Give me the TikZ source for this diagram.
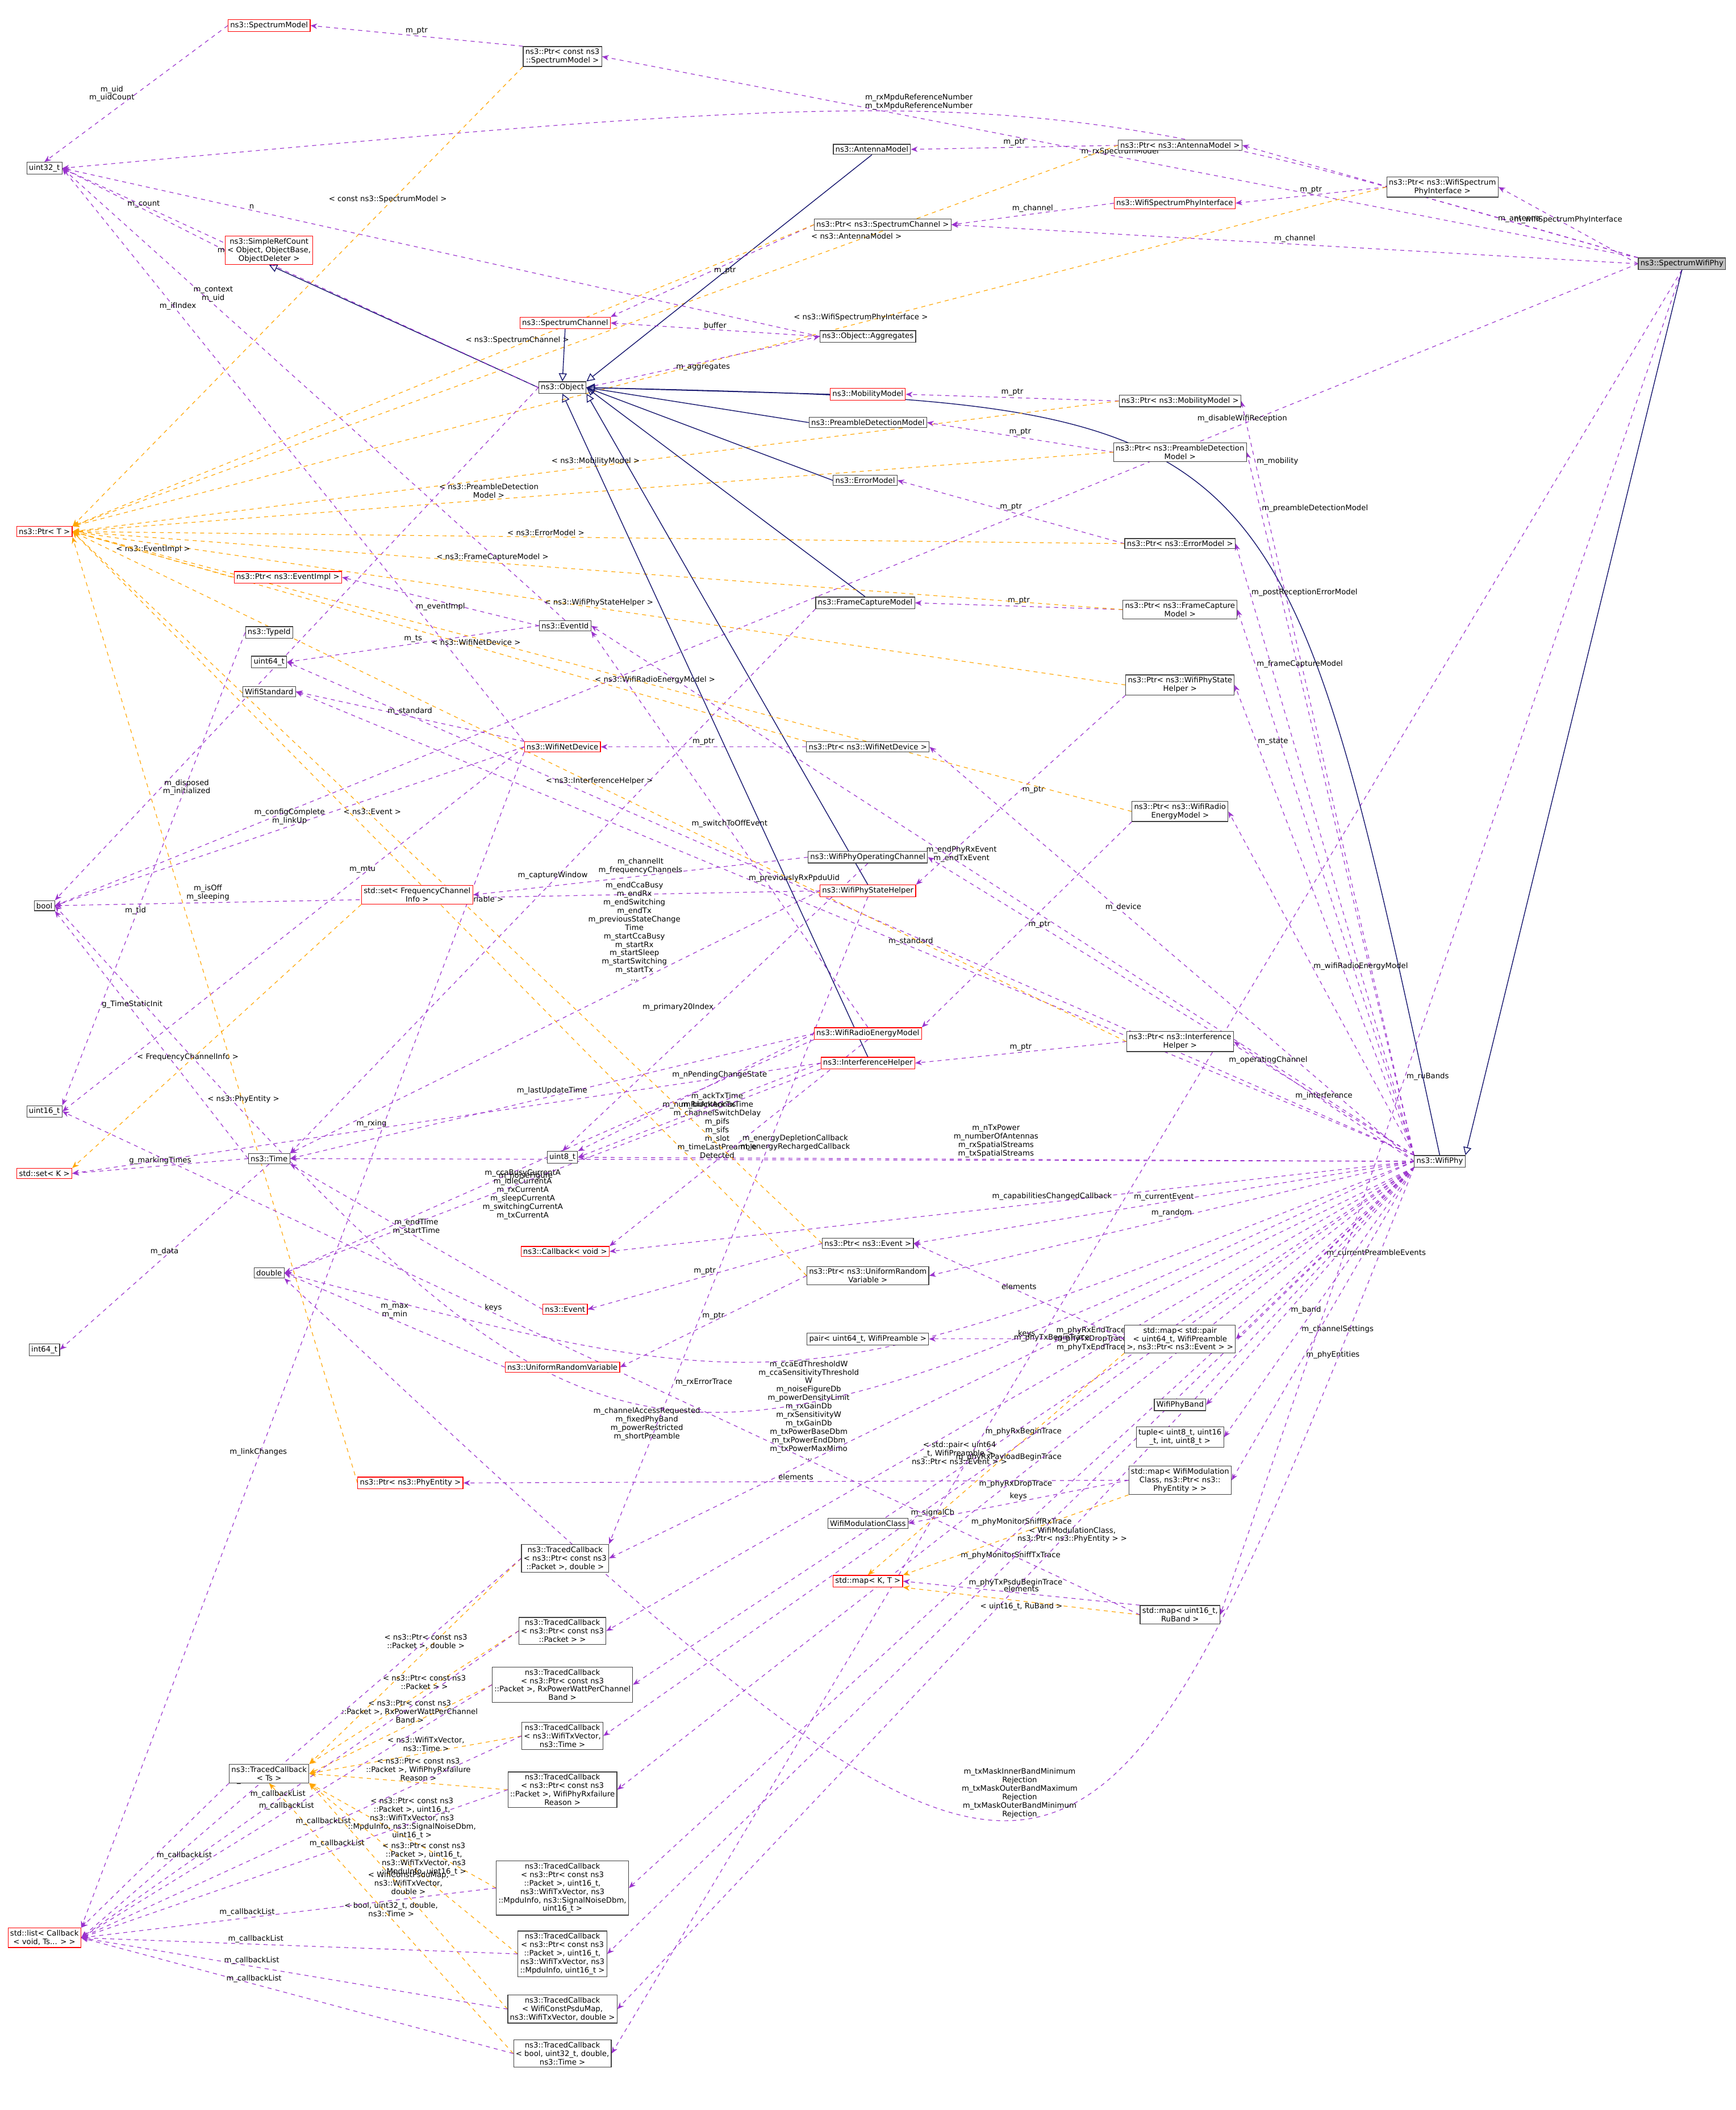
\documentclass[tikz,border=0pt]{standalone}
\usepackage{fontspec}
\setmainfont{DejaVu Sans}
\usetikzlibrary{arrows.meta}
\pgfdeclarelayer{bg}
\pgfsetlayers{bg,main}
\definecolor{pur}{HTML}{9A32CD}
\definecolor{org}{HTML}{FFA500}
\definecolor{nav}{HTML}{191970}
\tikzset{
 bx/.style={draw=black!75,fill=white,inner sep=1.6pt,align=center,font=\fontsize{5.6}{6.3}\selectfont,line width=0.5pt},
 rbx/.style={bx,draw=red},
 gbx/.style={bx,fill=black!25},
 use/.style={draw=pur,dashed,line width=0.5pt,-{Stealth[length=5pt,width=4pt]}},
 tpl/.style={draw=org,dashed,line width=0.5pt,-{Stealth[length=5pt,width=4pt]}},
 inh/.style={draw=nav,line width=0.6pt,-{Triangle[open,length=6pt,width=6pt]}},
 lb/.style={font=\fontsize{5.6}{6.3}\selectfont,align=center,inner sep=1pt,text=black}
}
\begin{document}
\begin{tikzpicture}[x=1pt,y=-1pt]
\useasboundingbox (0,0) rectangle (1290,1568);
% nodes
\node[gbx] (SWP) at (1250,196) {ns3::SpectrumWifiPhy};
\node[bx] (WP) at (1070,863) {ns3::WifiPhy};
\node[rbx] (SM) at (200,19) {ns3::SpectrumModel};
\node[bx] (PCSM) at (418,42) {ns3::Ptr< const ns3\\::SpectrumModel >};
\node[bx] (U32) at (33,125) {uint32\_t};
\node[bx] (AM) at (648,111) {ns3::AntennaModel};
\node[bx] (PAM) at (877,108) {ns3::Ptr< ns3::AntennaModel >};
\node[bx] (PWSPI) at (1072,139) {ns3::Ptr< ns3::WifiSpectrum\\PhyInterface >};
\node[rbx] (WSPI) at (873,151) {ns3::WifiSpectrumPhyInterface};
\node[bx] (PSC) at (656,167) {ns3::Ptr< ns3::SpectrumChannel >};
\node[rbx] (SRC) at (200,186) {ns3::SimpleRefCount\\< Object, ObjectBase,\\ObjectDeleter >};
\node[rbx] (SC) at (420,240) {ns3::SpectrumChannel};
\node[bx] (AGG) at (645,250) {ns3::Object::Aggregates};
\node[bx] (OBJ) at (418,288) {ns3::Object};
\node[rbx] (MM) at (645,293) {ns3::MobilityModel};
\node[bx] (PMM) at (877,298) {ns3::Ptr< ns3::MobilityModel >};
\node[bx] (PDM) at (645,314) {ns3::PreambleDetectionModel};
\node[bx] (PPDM) at (877,336) {ns3::Ptr< ns3::PreambleDetection\\Model >};
\node[bx] (EM) at (643,357) {ns3::ErrorModel};
\node[rbx] (PT) at (33,395) {ns3::Ptr< T >};
\node[bx] (PEM) at (877,404) {ns3::Ptr< ns3::ErrorModel >};
\node[rbx] (PEI) at (214,429) {ns3::Ptr< ns3::EventImpl >};
\node[bx] (EID) at (420,465) {ns3::EventId};
\node[bx] (FCM) at (643,448) {ns3::FrameCaptureModel};
\node[bx] (PFCM) at (877,453) {ns3::Ptr< ns3::FrameCapture\\Model >};
\node[bx] (TID) at (200,470) {ns3::TypeId};
\node[bx] (U64) at (200,492) {uint64\_t};
\node[bx] (WS) at (200,514) {WifiStandard};
\node[bx] (PWPSH) at (877,509) {ns3::Ptr< ns3::WifiPhyState\\Helper >};
\node[rbx] (WND) at (418,555) {ns3::WifiNetDevice};
\node[bx] (PWND) at (645,555) {ns3::Ptr< ns3::WifiNetDevice >};
\node[bx] (PWREM) at (877,603) {ns3::Ptr< ns3::WifiRadio\\EnergyModel >};
\node[bx] (WPOC) at (645,637) {ns3::WifiPhyOperatingChannel};
\node[bx] (BOOL) at (33,673) {bool};
\node[rbx] (SFCI) at (310,665) {std::set< FrequencyChannel\\Info >};
\node[rbx] (WPSH) at (645,662) {ns3::WifiPhyStateHelper};
\node[rbx] (WREM) at (645,768) {ns3::WifiRadioEnergyModel};
\node[rbx] (IH) at (645,790) {ns3::InterferenceHelper};
\node[bx] (PIH) at (877,774) {ns3::Ptr< ns3::Interference\\Helper >};
\node[bx] (U16) at (33,826) {uint16\_t};
\node[bx] (TIME) at (200,861) {ns3::Time};
\node[bx] (U8) at (418,860) {uint8\_t};
\node[rbx] (SK) at (33,872) {std::set< K >};
\node[rbx] (CBV) at (420,930) {ns3::Callback< void >};
\node[bx] (PEV) at (645,924) {ns3::Ptr< ns3::Event >};
\node[bx] (PURV) at (645,948) {ns3::Ptr< ns3::UniformRandom\\Variable >};
\node[bx] (DBL) at (200,946) {double};
\node[rbx] (EV) at (420,973) {ns3::Event};
\node[bx] (I64) at (33,1003) {int64\_t};
\node[bx] (PAIR) at (645,995) {pair< uint64\_t, WifiPreamble >};
\node[bx] (MPE) at (877,995) {std::map< std::pair\\< uint64\_t, WifiPreamble\\>, ns3::Ptr< ns3::Event > >};
\node[rbx] (URV) at (418,1016) {ns3::UniformRandomVariable};
\node[bx] (WPB) at (877,1044) {WifiPhyBand};
\node[bx] (TUP) at (877,1068) {tuple< uint8\_t, uint16\\\_t, int, uint8\_t >};
\node[rbx] (PPE) at (305,1102) {ns3::Ptr< ns3::PhyEntity >};
\node[bx] (MWMC) at (877,1100) {std::map< WifiModulation\\Class, ns3::Ptr< ns3::\\PhyEntity > >};
\node[bx] (WMC) at (645,1132) {WifiModulationClass};
\node[bx] (TC1) at (420,1158) {ns3::TracedCallback\\< ns3::Ptr< const ns3\\::Packet >, double >};
\node[rbx] (MKT) at (645,1175) {std::map< K, T >};
\node[bx] (MRU) at (877,1200) {std::map< uint16\_t,\\RuBand >};
\node[bx] (TC2) at (418,1212) {ns3::TracedCallback\\< ns3::Ptr< const ns3\\::Packet > >};
\node[bx] (TC3) at (418,1252) {ns3::TracedCallback\\< ns3::Ptr< const ns3\\::Packet >, RxPowerWattPerChannel\\Band >};
\node[bx] (TC4) at (418,1290) {ns3::TracedCallback\\< ns3::WifiTxVector,\\ns3::Time >};
\node[bx] (TCT) at (200,1318) {ns3::TracedCallback\\< Ts >};
\node[bx] (TC5) at (418,1330) {ns3::TracedCallback\\< ns3::Ptr< const ns3\\::Packet >, WifiPhyRxfailure\\Reason >};
\node[bx] (TC6) at (418,1403) {ns3::TracedCallback\\< ns3::Ptr< const ns3\\::Packet >, uint16\_t,\\ns3::WifiTxVector, ns3\\::MpduInfo, ns3::SignalNoiseDbm,\\uint16\_t >};
\node[rbx] (LST) at (33,1440) {std::list< Callback\\< void, Ts... > >};
\node[bx] (TC7) at (418,1452) {ns3::TracedCallback\\< ns3::Ptr< const ns3\\::Packet >, uint16\_t,\\ns3::WifiTxVector, ns3\\::MpduInfo, uint16\_t >};
\node[bx] (TC8) at (418,1493) {ns3::TracedCallback\\< WifiConstPsduMap,\\ns3::WifiTxVector, double >};
\node[bx] (TC9) at (418,1526) {ns3::TracedCallback\\< bool, uint32\_t, double,\\ns3::Time >};
\coordinate (cA) at (591,1045);
\coordinate (cB) at (800,1500);
\coordinate (cC) at (760,60);
\coordinate (cD) at (950,300);
\coordinate (cE) at (459,1137);

\begin{pgfonlayer}{bg}
\fill[white] (0,0) rectangle (1290,1568);
% SpectrumWifiPhy
\draw[use] (SWP.north west) -- node[lb,pos=0.5,above]{m\_rxSpectrumModel} (PCSM.east);
\draw[use] (SWP.north west) .. controls (cC) .. node[lb,pos=0.55,above]{m\_rxMpduReferenceNumber\\m\_txMpduReferenceNumber} (U32.east);
\draw[use] (SWP.north west) -- node[lb,pos=0.3,above]{m\_antenna} (PAM.east);
\draw[use] (SWP.west) -- node[lb,pos=0.5,above]{m\_wifiSpectrumPhyInterface} (PWSPI.east);
\draw[use] (SWP.west) -- node[lb,pos=0.5,above]{m\_channel} (PSC.east);
\draw[use] (SWP.west) -- node[lb,pos=0.25,above]{m\_disableWifiReception} (BOOL.east);
\draw[use] (SWP.south) -- node[lb,pos=0.6,right]{m\_ruBands} (MRU.east);
\draw[use] (SWP.south) -- node[lb,pos=0.7,above]{m\_signalCb} (TC9.east);
\draw[inh] (SWP.south) -- (WP.north east);
% WifiPhy
\draw[inh] (WP.north) .. controls (cD) .. (OBJ.east);
\draw[use] (WP.north west) -- node[lb,pos=0.92,right]{m\_mobility} (PMM.east);
\draw[use] (WP.north west) -- node[lb,pos=0.92,right]{m\_preambleDetectionModel} (PPDM.east);
\draw[use] (WP.north west) -- node[lb,pos=0.92,right]{m\_postReceptionErrorModel} (PEM.east);
\draw[use] (WP.north west) -- node[lb,pos=0.9,right]{m\_frameCaptureModel} (PFCM.east);
\draw[use] (WP.north west) -- node[lb,pos=0.88,right]{m\_state} (PWPSH.east);
\draw[use] (WP.west) -- node[lb,pos=0.6,above]{m\_device} (PWND.east);
\draw[use] (WP.north west) -- node[lb,pos=0.55,right]{m\_wifiRadioEnergyModel} (PWREM.east);
\draw[use] (WP.west) -- node[lb,pos=0.5,above]{m\_interference} (PIH.east);
\draw[use] (WP.west) -- node[lb,pos=0.5,above]{m\_currentEvent} (PEV.east);
\draw[use] (WP.west) -- node[lb,pos=0.5,above]{m\_random} (PURV.east);
\draw[use] (WP.south west) -- node[lb,pos=0.5,right]{m\_currentPreambleEvents} (MPE.east);
\draw[use] (WP.south west) -- node[lb,pos=0.6,right]{m\_band} (WPB.east);
\draw[use] (WP.south west) -- node[lb,pos=0.6,right]{m\_channelSettings} (TUP.east);
\draw[use] (WP.south west) -- node[lb,pos=0.6,right]{m\_phyEntities} (MWMC.east);
\draw[use] (WP.north west) -- node[lb,pos=0.55,above]{m\_endPhyRxEvent\\m\_endTxEvent} (EID.east);
\draw[use] (WP.north west) -- node[lb,pos=0.45,above]{m\_standard} (WS.east);
\draw[use] (WP.north west) -- node[lb,pos=0.55,above]{m\_previouslyRxPpduUid} (U64.east);
\draw[use] (WP.north west) -- node[lb,pos=0.3,above]{m\_operatingChannel} (WPOC.east);
\draw[use] (WP.west) -- node[lb,pos=0.5,above]{m\_nTxPower\\m\_numberOfAntennas\\m\_rxSpatialStreams\\m\_txSpatialStreams} (U8.east);
\draw[use] (WP.west) -- node[lb,pos=0.45,above]{m\_capabilitiesChangedCallback} (CBV.east);
\draw[use] (WP.west) -- node[lb,pos=0.62,above]{m\_ackTxTime\\m\_blockAckTxTime\\m\_channelSwitchDelay\\m\_pifs\\m\_sifs\\m\_slot\\m\_timeLastPreamble\\Detected} (TIME.east);
\draw[use] (WP.west) .. controls (cA) .. node[lb,pos=0.5,below]{m\_ccaEdThresholdW\\m\_ccaSensitivityThreshold\\W\\m\_noiseFigureDb\\m\_powerDensityLimit\\m\_rxGainDb\\m\_rxSensitivityW\\m\_txGainDb\\m\_txPowerBaseDbm\\m\_txPowerEndDbm\\m\_txPowerMaxMimo\\...} (DBL.east);
\draw[use] (WP.west) .. controls (cE) .. node[lb,pos=0.5,below]{m\_channelAccessRequested\\m\_fixedPhyBand\\m\_powerRestricted\\m\_shortPreamble} (BOOL.east);
\draw[use] (WP.south west) -- node[lb,pos=0.45,above]{m\_phyTxBeginTrace} (TC1.east);
\draw[use] (WP.south west) -- node[lb,pos=0.4,above]{m\_phyRxEndTrace\\m\_phyTxDropTrace\\m\_phyTxEndTrace} (TC2.east);
\draw[use] (WP.south west) .. controls (cB) .. node[lb,pos=0.5,above]{m\_txMaskInnerBandMinimum\\Rejection\\m\_txMaskOuterBandMaximum\\Rejection\\m\_txMaskOuterBandMinimum\\Rejection} (DBL.south east);
\draw[use] (WP.south west) -- node[lb,pos=0.5,below]{m\_phyRxBeginTrace} (TC3.east);
\draw[use] (WP.south west) -- node[lb,pos=0.5,below]{m\_phyRxPayloadBeginTrace} (TC4.east);
\draw[use] (WP.south west) -- node[lb,pos=0.5,below]{m\_phyRxDropTrace} (TC5.east);
\draw[use] (WP.south west) -- node[lb,pos=0.5,above]{m\_phyMonitorSniffRxTrace} (TC6.east);
\draw[use] (WP.south west) -- node[lb,pos=0.5,above]{m\_phyMonitorSniffTxTrace} (TC7.east);
\draw[use] (WP.south west) -- node[lb,pos=0.5,above]{m\_phyTxPsduBeginTrace} (TC8.east);
% Ptr instances
\draw[use] (PCSM.north west) -- node[lb,above]{m\_ptr} (SM.east);
\draw[tpl] (PCSM.south west) -- node[lb,pos=0.3,above]{< const ns3::SpectrumModel >} (PT.north east);
\draw[use] (SM.west) -- node[lb,pos=0.5,left]{m\_uid\\m\_uidCount} (U32.north);
\draw[use] (PAM.west) -- node[lb,above]{m\_ptr} (AM.east);
\draw[tpl] (PAM.west) -- node[lb,pos=0.25,above]{< ns3::AntennaModel >} (PT.north east);
\draw[inh] (AM.south) -- (OBJ.north east);
\draw[use] (PWSPI.west) -- node[lb,above]{m\_ptr} (WSPI.east);
\draw[tpl] (PWSPI.west) -- node[lb,pos=0.4,above]{< ns3::WifiSpectrumPhyInterface >} (PT.north east);
\draw[use] (WSPI.west) -- node[lb,above]{m\_channel} (PSC.east);
\draw[use] (PSC.west) -- node[lb,right]{m\_ptr} (SC.north east);
\draw[tpl] (PSC.west) -- node[lb,pos=0.4,above]{< ns3::SpectrumChannel >} (PT.north east);
\draw[use] (SRC.west) -- node[lb,above]{m\_count} (U32.east);
\draw[inh] (OBJ.west) -- (SRC.south);
\draw[inh] (SC.south) -- (OBJ.north);
\draw[use] (OBJ.east) -- node[lb,below]{m\_aggregates} (AGG.west);
\draw[use] (AGG.west) -- node[lb,above]{buffer} (SC.east);
\draw[use] (AGG.west) -- node[lb,pos=0.75,above]{n} (U32.east);
\draw[use] (OBJ.west) -- node[lb,pos=0.6,above]{m\_getObjectCount} (U32.east);
\draw[use] (OBJ.west) -- node[lb,pos=0.78,right]{m\_disposed\\m\_initialized} (BOOL.north east);
\draw[inh] (MM.west) -- (OBJ.east);
\draw[use] (PMM.west) -- node[lb,above]{m\_ptr} (MM.east);
\draw[tpl] (PMM.west) -- node[lb,pos=0.5,above]{< ns3::MobilityModel >} (PT.east);
\draw[inh] (PDM.west) -- (OBJ.east);
\draw[use] (PPDM.west) -- node[lb,above]{m\_ptr} (PDM.east);
\draw[tpl] (PPDM.west) -- node[lb,pos=0.6,above]{< ns3::PreambleDetection\\Model >} (PT.east);
\draw[inh] (EM.west) -- (OBJ.east);
\draw[use] (PEM.west) -- node[lb,above]{m\_ptr} (EM.east);
\draw[tpl] (PEM.west) -- node[lb,pos=0.55,above]{< ns3::ErrorModel >} (PT.east);
\draw[inh] (FCM.north) -- (OBJ.east);
\draw[use] (PFCM.west) -- node[lb,above]{m\_ptr} (FCM.east);
\draw[tpl] (PFCM.west) -- node[lb,pos=0.6,above]{< ns3::FrameCaptureModel >} (PT.east);
\draw[use] (FCM.south west) -- node[lb,pos=0.5,above]{m\_captureWindow} (TIME.north east);
\draw[use] (PWPSH.south west) -- node[lb,pos=0.5,right]{m\_ptr} (WPSH.north east);
\draw[tpl] (PWPSH.west) -- node[lb,pos=0.5,above]{< ns3::WifiPhyStateHelper >} (PT.east);
\draw[inh] (WPSH.north) -- (OBJ.south east);
\draw[tpl] (PEI.west) -- node[lb,above]{< ns3::EventImpl >} (PT.east);
\draw[use] (EID.west) -- node[lb,below]{m\_eventImpl} (PEI.east);
\draw[use] (EID.west) -- node[lb,above]{m\_ts} (U64.east);
\draw[use] (EID.north) -- node[lb,pos=0.7,above]{m\_context\\m\_uid} (U32.east);
\draw[use] (TID.west) -- node[lb,pos=0.6,above]{m\_tid} (U16.north east);
\draw[use] (TIME.south) -- node[lb,pos=0.5,above]{m\_data} (I64.east);
\draw[use] (TIME.west) -- node[lb,pos=0.6,above]{g\_TimeStaticInit} (BOOL.south east);
\draw[use] (TIME.west) -- node[lb,above]{g\_markingTimes} (SK.east);
\draw[tpl] (SFCI.south west) -- node[lb,pos=0.6,above]{< FrequencyChannelInfo >} (SK.north east);
\draw[use] (WND.west) -- node[lb,pos=0.5,above]{m\_configComplete\\m\_linkUp} (BOOL.east);
\draw[use] (WND.north west) -- node[lb,pos=0.75,above]{m\_ifIndex} (U32.east);
\draw[use] (WND.west) -- node[lb,pos=0.35,above]{m\_mtu} (U16.east);
\draw[use] (WND.north west) -- node[lb,pos=0.5,above]{m\_standard} (WS.east);
\draw[use] (PWND.west) -- node[lb,above]{m\_ptr} (WND.east);
\draw[tpl] (PWND.north west) -- node[lb,pos=0.45,above]{< ns3::WifiNetDevice >} (PT.east);
\draw[use] (PWREM.south west) -- node[lb,pos=0.5,right]{m\_ptr} (WREM.north east);
\draw[tpl] (PWREM.west) -- node[lb,pos=0.45,above]{< ns3::WifiRadioEnergyModel >} (PT.east);
\draw[use] (WREM.north) -- node[lb,pos=0.5,above]{m\_switchToOffEvent} (EID.south east);
\draw[use] (WREM.west) -- node[lb,pos=0.5,above]{m\_lastUpdateTime} (TIME.east);
\draw[use] (WREM.south west) -- node[lb,pos=0.55,below]{m\_ccaBusyCurrentA\\m\_idleCurrentA\\m\_rxCurrentA\\m\_sleepCurrentA\\m\_switchingCurrentA\\m\_txCurrentA} (DBL.east);
\draw[use] (WREM.south) -- node[lb,pos=0.5,right]{m\_energyDepletionCallback\\m\_energyRechargedCallback} (CBV.north east);
\draw[use] (WREM.west) -- node[lb,pos=0.4,above]{m\_nPendingChangeState} (U8.north east);
\draw[use] (WPSH.west) -- node[lb,pos=0.8,above]{m\_isOff\\m\_sleeping} (BOOL.east);
\draw[use] (WPSH.west) -- node[lb,pos=0.35,above]{m\_endCcaBusy\\m\_endRx\\m\_endSwitching\\m\_endTx\\m\_previousStateChange\\Time\\m\_startCcaBusy\\m\_startRx\\m\_startSleep\\m\_startSwitching\\m\_startTx\\...} (TIME.north east);
\draw[use] (WPSH.south) -- node[lb,pos=0.75,right]{m\_rxErrorTrace} (TC1.north east);
\draw[use] (WPOC.west) -- node[lb,pos=0.5,above]{m\_channelIt\\m\_frequencyChannels} (SFCI.east);
\draw[use] (WPOC.south) -- node[lb,pos=0.5,left]{m\_primary20Index} (U8.north);
\draw[inh] (IH.north) -- (OBJ.south);
\draw[use] (PIH.west) -- node[lb,above]{m\_ptr} (IH.east);
\draw[tpl] (PIH.west) -- node[lb,pos=0.5,above]{< ns3::InterferenceHelper >} (PT.east);
\draw[use] (IH.west) -- node[lb,pos=0.5,above]{m\_numRxAntennas} (U8.east);
\draw[use] (IH.west) -- node[lb,pos=0.6,above]{m\_rxing} (SK.east);
\draw[use] (IH.south west) -- node[lb,pos=0.55,above]{m\_noiseFigure} (DBL.east);
\draw[use] (PEV.west) -- node[lb,above]{m\_ptr} (EV.east);
\draw[tpl] (PEV.west) -- node[lb,pos=0.6,above]{< ns3::Event >} (PT.east);
\draw[use] (EV.west) -- node[lb,pos=0.5,above]{m\_endTime\\m\_startTime} (TIME.south east);
\draw[use] (PURV.west) -- node[lb,above]{m\_ptr} (URV.east);
\draw[tpl] (PURV.west) -- node[lb,pos=0.5,above]{< ns3::UniformRandomVariable >} (PT.east);
\draw[use] (URV.west) -- node[lb,pos=0.5,above]{m\_max\\m\_min} (DBL.east);
\draw[use] (MPE.west) -- node[lb,above]{elements} (PEV.east);
\draw[use] (MPE.west) -- node[lb,above]{keys} (PAIR.east);
\draw[tpl] (MPE.south west) -- node[lb,pos=0.45,left]{< std::pair< uint64\\\_t, WifiPreamble >,\\ns3::Ptr< ns3::Event > >} (MKT.north);
\draw[use] (MWMC.west) -- node[lb,pos=0.5,above]{elements} (PPE.east);
\draw[use] (MWMC.west) -- node[lb,above]{keys} (WMC.east);
\draw[tpl] (MWMC.south west) -- node[lb,pos=0.5,right]{< WifiModulationClass,\\ns3::Ptr< ns3::PhyEntity > >} (MKT.north east);
\draw[tpl] (PPE.west) -- node[lb,pos=0.4,above]{< ns3::PhyEntity >} (PT.south east);
\draw[tpl] (MRU.west) -- node[lb,pos=0.5,below]{< uint16\_t, RuBand >} (MKT.south east);
\draw[use] (MRU.north west) -- node[lb,pos=0.5,above]{elements} (MKT.east);
\draw[use] (MRU.west) -- node[lb,pos=0.6,above]{keys} (U16.east);
\draw[use] (WND.south west) -- node[lb,pos=0.6,above]{m\_linkChanges} (LST.north east);
% TracedCallbacks
\draw[tpl] (TC1.west) -- node[lb,pos=0.45,above]{< ns3::Ptr< const ns3\\::Packet >, double >} (TCT.north east);
\draw[tpl] (TC2.west) -- node[lb,pos=0.45,above]{< ns3::Ptr< const ns3\\::Packet > >} (TCT.north east);
\draw[tpl] (TC3.west) -- node[lb,pos=0.45,above]{< ns3::Ptr< const ns3\\::Packet >, RxPowerWattPerChannel\\Band >} (TCT.east);
\draw[tpl] (TC4.west) -- node[lb,pos=0.45,above]{< ns3::WifiTxVector,\\ns3::Time >} (TCT.east);
\draw[tpl] (TC5.west) -- node[lb,pos=0.45,above]{< ns3::Ptr< const ns3\\::Packet >, WifiPhyRxfailure\\Reason >} (TCT.east);
\draw[tpl] (TC6.west) -- node[lb,pos=0.45,above]{< ns3::Ptr< const ns3\\::Packet >, uint16\_t,\\ns3::WifiTxVector, ns3\\::MpduInfo, ns3::SignalNoiseDbm,\\uint16\_t >} (TCT.south east);
\draw[tpl] (TC7.west) -- node[lb,pos=0.45,above]{< ns3::Ptr< const ns3\\::Packet >, uint16\_t,\\ns3::WifiTxVector, ns3\\::MpduInfo, uint16\_t >} (TCT.south east);
\draw[tpl] (TC8.west) -- node[lb,pos=0.5,above]{< WifiConstPsduMap,\\ns3::WifiTxVector,\\double >} (TCT.south east);
\draw[tpl] (TC9.west) -- node[lb,pos=0.5,above]{< bool, uint32\_t, double,\\ns3::Time >} (TCT.south);
\foreach \t/\p in {TC1/0.6,TC2/0.55,TC3/0.5,TC4/0.45,TC5/0.4,TC6/0.6,TC7/0.6,TC8/0.6,TC9/0.6}
  \draw[use] (\t.west) -- node[lb,pos=\p,above]{m\_callbackList} (LST.east);
\draw[use] (TCT.south west) -- node[lb,pos=0.5,right]{m\_callbackList} (LST.north east);
\end{pgfonlayer}
\end{tikzpicture}
\end{document}
